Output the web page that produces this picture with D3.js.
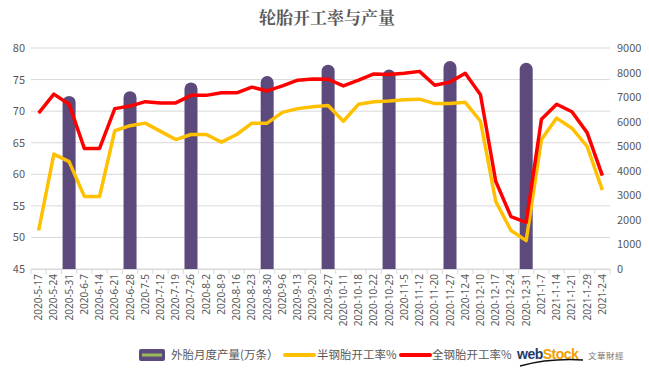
<!DOCTYPE html>
<html>
<head>
<meta charset="utf-8">
<script src="https://cdn.jsdelivr.net/npm/d3@7"></script>
<style>
  body { margin: 0; background: #fff; }
  svg { font-family: "Microsoft YaHei", "Noto Sans CJK SC", "Noto Sans", sans-serif; }
</style>
</head>
<body>
<div id="chart"></div>
<script>
// categories (weekly dates)
var dates = ["2020-5-17", "2020-5-24", "2020-5-31", "2020-6-7", "2020-6-14", "2020-6-21", "2020-6-28",
    "2020-7-5", "2020-7-12", "2020-7-19", "2020-7-26", "2020-8-2", "2020-8-9", "2020-8-16", "2020-8-23",
    "2020-8-30", "2020-9-6", "2020-9-13", "2020-9-20", "2020-9-27", "2020-10-11", "2020-10-18",
    "2020-10-22", "2020-10-29", "2020-11-5", "2020-11-12", "2020-11-20", "2020-11-27", "2020-12-4",
    "2020-12-10", "2020-12-17", "2020-12-24", "2020-12-31", "2021-1-7", "2021-1-14", "2021-1-21",
    "2021-1-29", "2021-2-4"];

// semi-steel tyre operating rate %
var semiSteel = [51.1, 63.2, 62.0, 56.5, 56.5, 66.9, 67.7, 68.1, 66.8, 65.5, 66.3, 66.3, 65.1, 66.3, 68.1,
    68.1, 69.8, 70.4, 70.7, 70.9, 68.4, 71.1, 71.5, 71.6, 71.8, 71.9, 71.2, 71.2, 71.4,
    68.4, 55.7, 51.1, 49.5, 65.5, 68.9, 67.3, 64.4, 57.5];

// all-steel tyre operating rate %
var allSteel = [69.7, 72.7, 71.1, 64.1, 64.1, 70.4, 70.8, 71.5, 71.3, 71.3, 72.5, 72.5, 72.9, 72.9, 73.8,
    73.2, 74.0, 74.9, 75.1, 75.05, 74.0, 74.9, 75.9, 75.8, 76.0, 76.3, 74.1, 74.6, 76.0,
    72.6, 58.9, 53.3, 52.4, 68.7, 71.1, 69.9, 66.6, 59.8];

// monthly outer tyre output (10k units), right axis
var outputDates = ["2020-5-31", "2020-6-28", "2020-7-26", "2020-8-30", "2020-9-27", "2020-10-29", "2020-11-27", "2020-12-31"];
var outputValues = [7050, 7240, 7600, 7860, 8320, 8120, 8470, 8400];

var leftTicks = [45, 50, 55, 60, 65, 70, 75, 80];
var rightTicks = [0, 1000, 2000, 3000, 4000, 5000, 6000, 7000, 8000, 9000];

var width = 649, height = 375;
var margin = {top: 48, right: 39, bottom: 106, left: 31};

var svg = d3.select("#chart")
    .append("svg")
    .attr("width", width)
    .attr("height", height);

var x = d3.scaleBand()
    .domain(dates)
    .range([margin.left, width - margin.right]);

var yLeft = d3.scaleLinear()
    .domain([45, 80])
    .range([height - margin.bottom, margin.top]);

var yRight = d3.scaleLinear()
    .domain([0, 9000])
    .range([height - margin.bottom, margin.top]);

// title
svg.append("text")
    .attr("x", 327)
    .attr("y", 24)
    .attr("text-anchor", "middle")
    .style("font-family", "'Noto Serif CJK SC', 'Noto Sans CJK SC', serif")
    .style("font-size", "17px")
    .style("font-weight", "bold")
    .style("fill", "#595959")
    .text("轮胎开工率与产量");

// gridlines
svg.append("g")
    .selectAll("line")
    .data(leftTicks)
    .enter()
    .append("line")
    .attr("x1", margin.left)
    .attr("x2", width - margin.right)
    .attr("y1", function(d) { return yLeft(d); })
    .attr("y2", function(d) { return yLeft(d); })
    .style("stroke", "#d9d9d9")
    .style("stroke-width", 1);

// left axis labels
svg.append("g")
    .selectAll("text")
    .data(leftTicks)
    .enter()
    .append("text")
    .attr("x", 25)
    .attr("y", function(d) { return yLeft(d) + 4; })
    .attr("text-anchor", "end")
    .style("font-size", "11px")
    .style("fill", "#595959")
    .text(function(d) { return d; });

// right axis labels
svg.append("g")
    .selectAll("text")
    .data(rightTicks)
    .enter()
    .append("text")
    .attr("x", 617)
    .attr("y", function(d) { return yRight(d) + 4; })
    .style("font-size", "11px")
    .style("fill", "#595959")
    .text(function(d) { return d; });

// x axis
var xAxis = d3.axisBottom(x).tickSize(0).tickPadding(4);
var gx = svg.append("g")
    .attr("transform", "translate(0," + (height - margin.bottom) + ")")
    .call(xAxis);
gx.select(".domain").style("stroke", "#d9d9d9");
gx.selectAll("text")
    .attr("transform", "rotate(-90)")
    .attr("x", -5)
    .attr("y", 0)
    .attr("dy", "0.35em")
    .style("text-anchor", "end")
    .style("font-family", "'Microsoft YaHei', 'Noto Sans', sans-serif")
    .style("font-size", "10px")
    .style("fill", "#595959");

// tick marks between categories
svg.append("g")
    .selectAll("line")
    .data(dates.concat(["end"]))
    .enter()
    .append("line")
    .attr("x1", function(d, i) { return margin.left + i * x.step(); })
    .attr("x2", function(d, i) { return margin.left + i * x.step(); })
    .attr("y1", height - margin.bottom)
    .attr("y2", height - margin.bottom + 5)
    .style("stroke", "#d9d9d9");

// bars with rounded tops
var barW = 13;
svg.append("g")
    .selectAll("path")
    .data(outputDates)
    .enter()
    .append("path")
    .attr("d", function(d, i) {
        var cx = x(d) + x.bandwidth() / 2;
        var top = yRight(outputValues[i]);
        var bottom = yRight(0);
        var r = barW / 2;
        return "M" + (cx - r) + "," + bottom +
            "L" + (cx - r) + "," + (top + r) +
            "A" + r + "," + r + " 0 0 1 " + (cx + r) + "," + (top + r) +
            "L" + (cx + r) + "," + bottom + "Z";
    })
    .style("fill", "#5b4a7b");

var line = d3.line()
    .x(function(d, i) { return x(dates[i]) + x.bandwidth() / 2; })
    .y(function(d) { return yLeft(d); });

svg.append("path")
    .datum(semiSteel)
    .attr("d", line)
    .style("fill", "none")
    .style("stroke", "#ffc000")
    .style("stroke-width", 3.5)
    .style("stroke-linejoin", "round");

svg.append("path")
    .datum(allSteel)
    .attr("d", line)
    .style("fill", "none")
    .style("stroke", "#ff0000")
    .style("stroke-width", 3.5)
    .style("stroke-linejoin", "round");

// legend
var ly = 355;
var legend = svg.append("g");
legend.append("rect")
    .attr("x", 139).attr("y", ly - 6)
    .attr("width", 26).attr("height", 12)
    .attr("rx", 2)
    .style("fill", "#5b4a7b");
legend.append("line")
    .attr("x1", 142).attr("x2", 162)
    .attr("y1", ly).attr("y2", ly)
    .style("stroke", "#9bbb59")
    .style("stroke-width", 3);
legend.append("text")
    .attr("x", 171).attr("y", ly + 4)
    .style("font-size", "11.5px")
    .style("fill", "#595959")
    .text("外胎月度产量(万条）");

legend.append("line")
    .attr("x1", 285).attr("x2", 314)
    .attr("y1", ly).attr("y2", ly)
    .style("stroke", "#ffc000")
    .style("stroke-width", 4)
    .style("stroke-linecap", "round");
legend.append("text")
    .attr("x", 317).attr("y", ly + 4)
    .style("font-size", "11.5px")
    .style("fill", "#595959")
    .text("半钢胎开工率%");

legend.append("line")
    .attr("x1", 401).attr("x2", 430)
    .attr("y1", ly).attr("y2", ly)
    .style("stroke", "#ff0000")
    .style("stroke-width", 4)
    .style("stroke-linecap", "round");
legend.append("text")
    .attr("x", 432).attr("y", ly + 4)
    .style("font-size", "11.5px")
    .style("fill", "#595959")
    .text("全钢胎开工率%");

// logo
var logo = svg.append("g");
var lt = logo.append("text")
    .attr("x", 517).attr("y", ly + 4)
    .style("font-family", "Arial, 'Liberation Sans', sans-serif")
    .style("font-size", "14px")
    .style("font-weight", "bold")
    .style("letter-spacing", "-0.5px");
lt.append("tspan").style("fill", "#1f3a6e").text("web");
lt.append("tspan").style("fill", "#f0a000").text("Stock");
logo.append("path")
    .attr("d", "M520,366 Q550,358 583,360")
    .style("fill", "none")
    .style("stroke", "#111")
    .style("stroke-width", 1.5);
logo.append("text")
    .attr("x", 588).attr("y", ly + 4)
    .style("font-size", "8.5px")
    .style("fill", "#777")
    .style("letter-spacing", "0.5px")
    .text("文華財經");
</script>
</body>
</html>
